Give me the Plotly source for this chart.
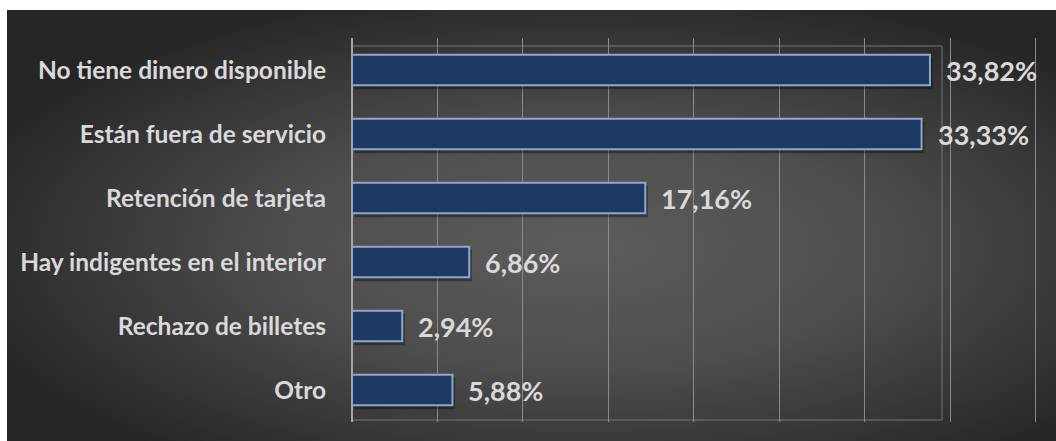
import base64
import plotly.graph_objects as go

categories = ["No tiene dinero disponible", "Están fuera de servicio", "Retención de tarjeta",
              "Hay indigentes en el interior", "Rechazo de billetes", "Otro"]
values = [33.82, 33.33, 17.16, 6.86, 2.94, 5.88]
value_labels = ["33,82%", "33,33%", "17,16%", "6,86%", "2,94%", "5,88%"]

W, H = 1056, 441
PX0, PX1, PY0, PY1 = 352, 1039, 38, 422  # plot area in pixels
pw, ph = PX1 - PX0, PY1 - PY0
XMAX = 40.2

def paper_x(px):
    return (px - PX0) / pw

def paper_y(py):
    return (PY1 - py) / ph

svg = f'''<svg xmlns="http://www.w3.org/2000/svg" width="1049" height="431" viewBox="0 0 1049 431" preserveAspectRatio="none">
<defs><radialGradient id="g" cx="0.55" cy="0.55" r="0.62" gradientUnits="objectBoundingBox">
<stop offset="0" stop-color="#5c5c5c"/><stop offset="0.45" stop-color="#4e4e4e"/><stop offset="1" stop-color="#262626"/>
</radialGradient></defs><rect width="1049" height="431" fill="url(#g)"/></svg>'''
src = "data:image/svg+xml;base64," + base64.b64encode(svg.encode()).decode()

font = "Lato, 'Open Sans', sans-serif"
txtcol = "#d9d9d9"

fig = go.Figure()
# soft shadow under the bars
fig.add_trace(go.Bar(
    y=categories, x=values, base=0.15, orientation="h",
    marker=dict(color="rgba(0,0,0,0.35)", line=dict(width=0)),
    width=0.5, offset=-0.3, hoverinfo="skip",
))
fig.add_trace(go.Bar(
    y=categories, x=values, orientation="h",
    marker=dict(color="#1f3864", line=dict(color="#8fa8c8", width=2)),
    width=0.48, hoverinfo="skip",
))

for c, v, t in zip(categories, values, value_labels):
    fig.add_annotation(x=v, y=c, text=t, showarrow=False, xanchor="left", yanchor="middle",
                       xshift=14, font=dict(family=font, size=27, color=txtcol, weight="bold"))

fig.add_layout_image(dict(source=src, xref="paper", yref="paper",
                          x=paper_x(7), y=paper_y(10), sizex=(W - 7) / pw, sizey=(H - 10) / ph,
                          xanchor="left", yanchor="top", sizing="stretch", layer="below"))

# inner frame
fig.add_shape(type="rect", xref="paper", yref="paper",
              x0=0, x1=paper_x(942), y0=paper_y(420), y1=paper_y(46),
              line=dict(color="#777777", width=1), layer="below")

fig.update_layout(
    width=W, height=H,
    margin=dict(l=PX0, r=W - PX1, t=PY0, b=H - PY1),
    paper_bgcolor="white", plot_bgcolor="rgba(0,0,0,0)",
    showlegend=False, barmode="overlay",
    xaxis=dict(range=[0, XMAX], dtick=5, tick0=0, showgrid=True, gridcolor="#8a8a8a", gridwidth=1,
               showticklabels=False, zeroline=True, zerolinecolor="#a6a6a6", zerolinewidth=2,
               fixedrange=True),
    yaxis=dict(categoryorder="array", categoryarray=categories[::-1], range=[-0.5, 5.5],
               showgrid=False, ticks="", ticklabelstandoff=25,
               tickfont=dict(family=font, size=24.5, color=txtcol, weight="bold"), fixedrange=True),
)

fig.write_html("out.html")
